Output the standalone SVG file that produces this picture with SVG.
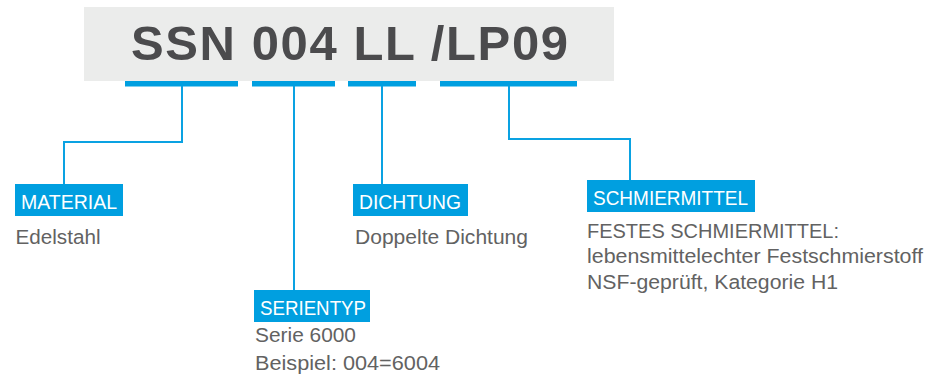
<svg xmlns="http://www.w3.org/2000/svg" width="928" height="378" viewBox="0 0 928 378">
  <style>
    .bar { fill: #009fe0; }
    .conn { fill: none; stroke: #0aa2e2; stroke-width: 2; }
    .lbl { fill: #009fe0; }
    .lbltxt { font-family: "Liberation Sans", Arial, sans-serif; font-size: 20px; fill: #ffffff; }
    .body { font-family: "Liberation Sans", Arial, sans-serif; font-size: 20.5px; fill: #626262; }
    .title { font-family: "Liberation Sans", Arial, sans-serif; font-size: 49px; font-weight: bold; fill: #4b4b4d; }
  </style>
  <rect width="928" height="378" fill="#ffffff"/>
  <g id="code">
    <rect x="84" y="7" width="530" height="74" fill="#ebeceb"/>
    <text class="title" x="131" y="60" textLength="437" lengthAdjust="spacing">SSN 004 LL /LP09</text>
    <rect class="bar" x="125" y="81" width="113" height="5.5"/>
    <rect class="bar" x="252" y="81" width="83" height="5.5"/>
    <rect class="bar" x="348" y="81" width="68" height="5.5"/>
    <rect class="bar" x="440" y="81" width="137" height="5.5"/>
  </g>
  <g id="connectors">
    <polyline class="conn" points="182,86 182,142 64,142 64,184"/>
    <polyline class="conn" points="294,86 294,290"/>
    <polyline class="conn" points="382,86 382,184"/>
    <polyline class="conn" points="509,86 509,139 630,139 630,180"/>
  </g>
  <g id="material">
    <rect class="lbl" x="15" y="184" width="108" height="32"/>
    <text class="lbltxt" x="21" y="209" textLength="96" lengthAdjust="spacingAndGlyphs">MATERIAL</text>
    <text class="body" x="15.5" y="244" textLength="85" lengthAdjust="spacingAndGlyphs">Edelstahl</text>
  </g>
  <g id="serientyp">
    <rect class="lbl" x="254" y="290" width="116" height="32"/>
    <text class="lbltxt" x="260" y="315" textLength="106" lengthAdjust="spacingAndGlyphs">SERIENTYP</text>
    <text class="body" x="255" y="342" textLength="101" lengthAdjust="spacingAndGlyphs">Serie 6000</text>
    <text class="body" x="255" y="370" textLength="185" lengthAdjust="spacingAndGlyphs">Beispiel: 004=6004</text>
  </g>
  <g id="dichtung">
    <rect class="lbl" x="353" y="184" width="115" height="32"/>
    <text class="lbltxt" x="359" y="209" textLength="102" lengthAdjust="spacingAndGlyphs">DICHTUNG</text>
    <text class="body" x="355" y="244" textLength="173" lengthAdjust="spacingAndGlyphs">Doppelte Dichtung</text>
  </g>
  <g id="schmiermittel">
    <rect class="lbl" x="587" y="180" width="168" height="32"/>
    <text class="lbltxt" x="593" y="205" textLength="155" lengthAdjust="spacingAndGlyphs">SCHMIERMITTEL</text>
    <text class="body" x="587" y="238" textLength="252" lengthAdjust="spacingAndGlyphs">FESTES SCHMIERMITTEL:</text>
    <text class="body" x="587" y="263" textLength="336" lengthAdjust="spacingAndGlyphs">lebensmittelechter Festschmierstoff</text>
    <text class="body" x="587" y="289" textLength="251" lengthAdjust="spacingAndGlyphs">NSF-geprüft, Kategorie H1</text>
  </g>
</svg>
